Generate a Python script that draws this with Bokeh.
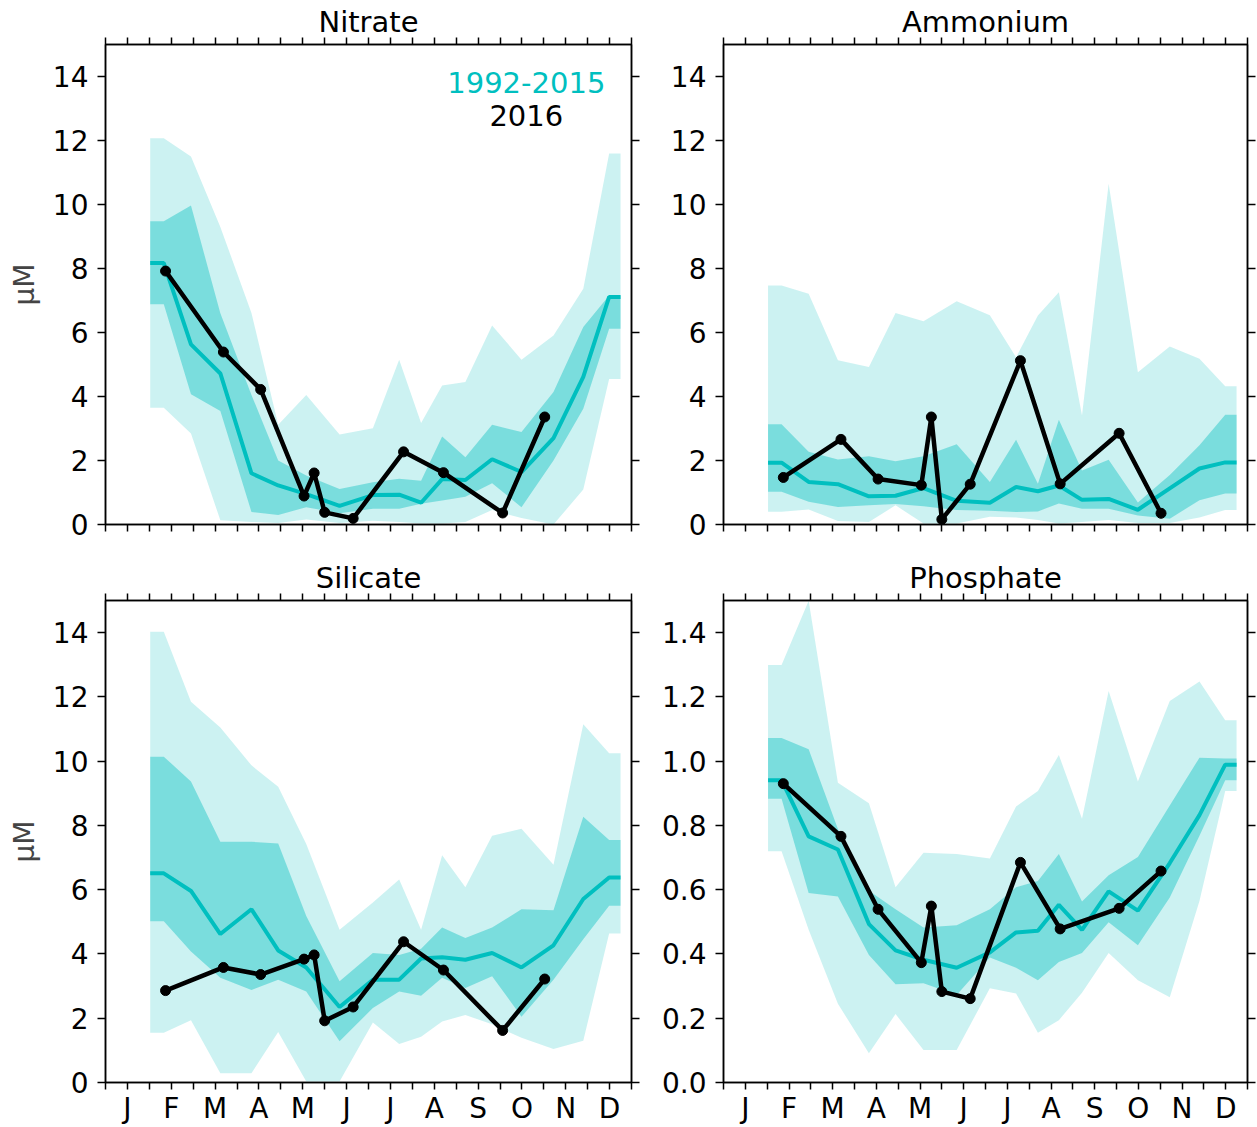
from bokeh.plotting import figure
from bokeh.layouts import gridplot
from bokeh.models import FixedTicker, LinearAxis, Label, Range1d, PrintfTickFormatter
from bokeh.embed import file_html
from bokeh.resources import INLINE

TEAL = "#00bfbf"
FONT = "DejaVu Sans"

MONTHS = ["J", "F", "M", "A", "M", "J", "J", "A", "S", "O", "N", "D"]

# climatology bins (month units, 0 = start of Jan)
clim_x = [1.02, 1.33, 1.95, 2.62, 3.33, 3.94, 4.58, 5.34, 6.1, 6.7, 7.2,
          7.68, 8.21, 8.82, 9.49, 10.22, 10.9, 11.49, 11.75]
# 2016 sampling dates
obs_x = [1.37, 2.69, 3.54, 4.53, 4.76, 5.0, 5.65, 6.8, 7.71, 9.06, 10.02]

# Nitrate
no3_med = [8.17, 8.17, 5.63, 4.72, 1.60, 1.22, 0.95, 0.58, 0.92, 0.93, 0.68,
           1.42, 1.39, 2.04, 1.64, 2.70, 4.61, 7.11, 7.11]
no3_q1 = [6.88, 6.88, 4.07, 3.55, 0.39, 0.30, 0.54, 0.35, 0.49, 0.49, 0.65,
          0.75, 0.87, 1.29, 0.54, 2.00, 3.62, 6.12, 6.12]
no3_q3 = [9.48, 9.48, 9.97, 6.60, 4.05, 2.00, 1.53, 1.11, 1.32, 1.43, 1.37,
          2.75, 2.10, 3.12, 2.89, 4.14, 6.17, 7.16, 7.16]
no3_lo = [3.65, 3.65, 2.84, 0.13, 0.08, 0.05, 0.16, 0.05, 0.12, 0.08, 0.03,
          0.03, 0.08, 0.45, 0.20, 0.00, 1.09, 4.55, 4.55]
no3_hi = [12.07, 12.07, 11.50, 9.30, 6.61, 3.12, 4.05, 2.81, 3.01, 5.15, 3.17,
          4.34, 4.45, 6.22, 5.15, 5.91, 7.37, 11.59, 11.59]
no3_2016 = [7.92, 5.39, 4.22, 0.89, 1.61, 0.38, 0.19, 2.27, 1.62, 0.36, 3.36]

# Ammonium
nh4_med = [1.93, 1.93, 1.33, 1.26, 0.88, 0.90, 1.14, 0.74, 0.68, 1.17, 1.04,
           1.22, 0.77, 0.80, 0.46, 1.13, 1.75, 1.94, 1.94]
nh4_q1 = [1.02, 1.02, 0.71, 0.55, 0.60, 0.64, 0.57, 0.45, 0.43, 0.39, 0.41,
          0.66, 0.49, 0.49, 0.28, 0.18, 0.76, 0.97, 0.97]
nh4_q3 = [3.13, 3.13, 2.27, 2.03, 2.13, 1.98, 2.13, 2.51, 1.33, 2.65, 1.27,
          3.27, 1.69, 2.02, 0.69, 1.55, 2.48, 3.43, 3.43]
nh4_lo = [0.40, 0.40, 0.47, 0.11, 0.08, 0.60, 0.03, 0.03, 0.24, 0.22, 0.14,
          0.03, 0.08, 0.14, 0.05, 0.05, 0.22, 0.45, 0.45]
nh4_hi = [7.47, 7.47, 7.21, 5.13, 4.92, 6.61, 6.35, 6.98, 6.54, 5.23, 6.53,
          7.26, 3.41, 10.65, 4.76, 5.56, 5.18, 4.32, 4.32]
nh4_2016 = [1.47, 2.66, 1.42, 1.23, 3.36, 0.16, 1.26, 5.12, 1.27, 2.85, 0.35]

# Silicate
si_med = [6.51, 6.51, 5.96, 4.62, 5.39, 4.11, 3.58, 2.35, 3.20, 3.20, 3.86,
          3.90, 3.82, 4.03, 3.58, 4.27, 5.71, 6.38, 6.38]
si_q1 = [5.02, 5.02, 4.08, 3.26, 2.88, 3.20, 2.83, 1.28, 2.32, 2.83, 2.70,
         3.26, 2.94, 3.31, 2.05, 3.20, 4.46, 5.50, 5.50]
si_q3 = [10.14, 10.14, 9.37, 7.49, 7.49, 7.44, 5.18, 3.15, 4.03, 3.97, 4.16,
         4.82, 4.50, 4.82, 5.39, 5.36, 8.27, 7.55, 7.55]
si_lo = [1.55, 1.55, 1.94, 0.29, 0.29, 1.57, 0.03, 0.03, 1.87, 1.20, 1.42,
         1.90, 2.10, 1.81, 1.39, 1.04, 1.30, 4.64, 4.64]
si_hi = [14.03, 14.03, 11.85, 11.05, 9.87, 9.20, 7.42, 4.75, 5.60, 6.32, 4.75,
         7.07, 6.08, 7.68, 7.90, 6.78, 11.15, 10.25, 10.25]
si_2016 = [2.86, 3.58, 3.36, 3.84, 3.97, 1.92, 2.35, 4.38, 3.50, 1.62, 3.22]

# Phosphate
po4_med = [0.941, 0.941, 0.766, 0.725, 0.493, 0.411, 0.382, 0.357, 0.405, 0.467,
           0.472, 0.553, 0.475, 0.595, 0.535, 0.683, 0.832, 0.989, 0.989]
po4_q1 = [0.883, 0.883, 0.590, 0.579, 0.397, 0.306, 0.309, 0.272, 0.389, 0.357,
          0.318, 0.375, 0.403, 0.499, 0.427, 0.576, 0.768, 0.941, 0.941]
po4_q3 = [1.072, 1.072, 1.037, 0.789, 0.597, 0.539, 0.482, 0.489, 0.539, 0.608,
          0.627, 0.711, 0.563, 0.645, 0.702, 0.862, 1.011, 1.008, 1.008]
po4_lo = [0.720, 0.720, 0.475, 0.245, 0.091, 0.213, 0.101, 0.101, 0.293, 0.277,
          0.155, 0.194, 0.279, 0.403, 0.318, 0.265, 0.565, 0.907, 0.907]
po4_hi = [1.299, 1.299, 1.499, 0.933, 0.869, 0.608, 0.715, 0.711, 0.697, 0.859,
          0.907, 1.019, 0.821, 1.218, 0.937, 1.187, 1.248, 1.127, 1.127]
po4_2016 = [0.930, 0.766, 0.539, 0.373, 0.549, 0.283, 0.261, 0.685, 0.478,
            0.542, 0.658]


def style_axis(ax, ticker, labels=True):
    ax.ticker = ticker
    ax.axis_line_color = "black"
    ax.axis_line_width = 1.5
    ax.major_tick_line_color = "black"
    ax.major_tick_line_width = 1.5
    ax.major_tick_in = 0
    ax.major_tick_out = 7
    ax.minor_tick_line_color = "black"
    ax.minor_tick_line_width = 1.5
    ax.minor_tick_in = 0
    ax.minor_tick_out = 7
    ax.major_label_text_font = FONT
    if labels:
        ax.major_label_text_font_size = "28px"
        ax.major_label_text_color = "black"
    else:
        ax.major_label_text_font_size = "0px"
        ax.major_label_text_color = None


def month_ticker():
    return FixedTicker(ticks=[i + 0.5 for i in range(12)],
                       minor_ticks=[float(i) for i in range(13)])


def make_panel(title, med, q1, q3, lo, hi, obs, ymax, yticks, left_col, bottom_row):
    if left_col:
        width, bl, br = 658, 105, 27
    else:
        width, bl, br = 599, 64, 10
    if bottom_row:
        height, bt, bb = 569, 42, 45
    else:
        height, bt, bb = 558, 44, 34

    p = figure(width=width, height=height, x_range=Range1d(0, 12),
               y_range=Range1d(0, ymax), min_border_left=bl, min_border_right=br,
               min_border_top=bt, min_border_bottom=bb,
               output_backend="svg", toolbar_location=None)
    p.grid.visible = False
    p.outline_line_color = "black"
    p.outline_line_width = 1.5
    p.background_fill_color = "white"
    p.border_fill_color = "white"

    p.title.text = title
    p.title.align = "center"
    p.title.text_font = FONT
    p.title.text_font_size = "29px"
    p.title.text_font_style = "normal"
    p.title.text_color = "black"
    p.title.standoff = -3

    xaxis = p.xaxis[0]
    style_axis(xaxis, month_ticker(), labels=bottom_row)
    xaxis.major_label_overrides = {i + 0.5: MONTHS[i] for i in range(12)}
    xaxis.major_label_standoff = 2

    yaxis = p.yaxis[0]
    style_axis(yaxis, FixedTicker(ticks=yticks, minor_ticks=[]))
    yaxis.major_tick_out = 8
    yaxis.major_label_standoff = 9
    if ymax < 5:
        yaxis.formatter = PrintfTickFormatter(format="%.1f")

    if left_col:
        yaxis.axis_label = "\u03bcM"
        yaxis.axis_label_text_font = FONT
        yaxis.axis_label_text_font_size = "28px"
        yaxis.axis_label_text_font_style = "normal"
        yaxis.axis_label_standoff = 9

    top = LinearAxis()
    style_axis(top, month_ticker(), labels=False)
    p.add_layout(top, "above")
    right = LinearAxis()
    style_axis(right, FixedTicker(ticks=yticks, minor_ticks=[]), labels=False)
    right.major_tick_out = 8
    p.add_layout(right, "right")

    p.varea(x=clim_x, y1=lo, y2=hi, fill_color=TEAL, fill_alpha=0.2)
    p.varea(x=clim_x, y1=q1, y2=q3, fill_color=TEAL, fill_alpha=0.4)
    p.line(clim_x, med, line_color=TEAL, line_width=4)
    p.line(obs_x, obs, line_color="black", line_width=4.5)
    p.scatter(obs_x, obs, size=10, fill_color="black", line_color="black")
    return p


y15 = [0, 2, 4, 6, 8, 10, 12, 14]
y15p = [round(0.2 * i, 1) for i in range(8)]

p1 = make_panel("Nitrate", no3_med, no3_q1, no3_q3, no3_lo, no3_hi, no3_2016,
                15, y15, True, False)
p2 = make_panel("Ammonium", nh4_med, nh4_q1, nh4_q3, nh4_lo, nh4_hi, nh4_2016,
                15, y15, False, False)
p3 = make_panel("Silicate", si_med, si_q1, si_q3, si_lo, si_hi, si_2016,
                15, y15, True, True)
p4 = make_panel("Phosphate", po4_med, po4_q1, po4_q3, po4_lo, po4_hi, po4_2016,
                1.5, y15p, False, True)

# legend text in the Nitrate panel
p1.add_layout(Label(x=9.6, y=13.81, text="1992-2015", text_align="center",
                    text_baseline="middle", text_font=FONT,
                    text_font_size="29px", text_color=TEAL))
p1.add_layout(Label(x=9.6, y=12.78, text="2016", text_align="center",
                    text_baseline="middle", text_font=FONT,
                    text_font_size="29px", text_color="black"))

grid = gridplot([[p1, p2], [p3, p4]], toolbar_location=None)

open("out.html", "w").write(file_html(grid, INLINE))
